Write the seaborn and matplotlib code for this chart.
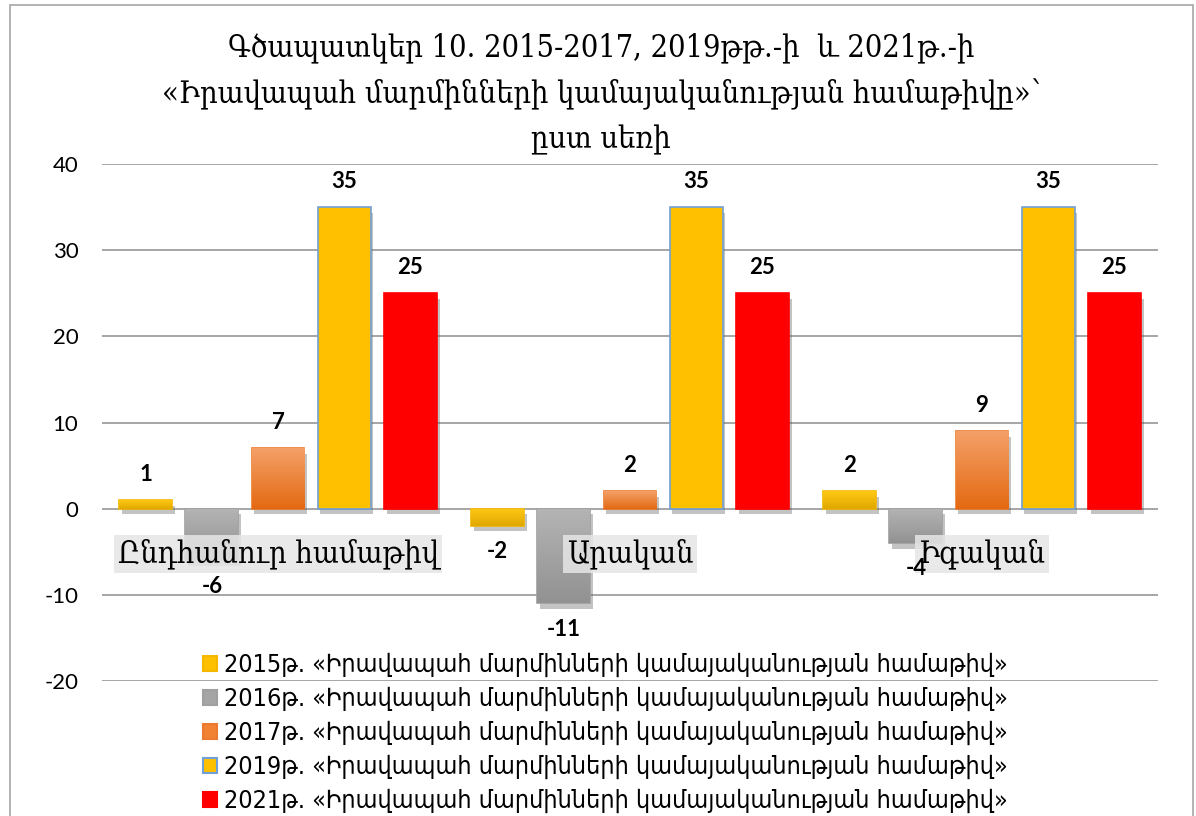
import matplotlib
matplotlib.use("Agg")
import matplotlib.pyplot as plt
import matplotlib.patheffects as pe
from matplotlib.patches import Rectangle
from matplotlib.colors import LinearSegmentedColormap
import numpy as np
import seaborn as sns
import pandas as pd

# ---- data ----
categories = ["Ընդհանուր համաթիվ", "Արական", "Իգական"]
years = ["2015թ.", "2016թ.", "2017թ.", "2019թ.", "2021թ."]
series_suffix = " «Իրավապահ մարմինների կամայականության համաթիվ»"
v2015 = [1, -2, 2]
v2016 = [-6, -11, -4]
v2017 = [7, 2, 9]
v2019 = [35, 35, 35]
v2021 = [25, 25, 25]
yticks = [-20, -10, 0, 10, 20, 30, 40]
title_lines = ["Գծապատկեր 10. 2015-2017, 2019թթ.-ի  և 2021թ.-ի",
               "«Իրավապահ մարմինների կամայականության համաթիվը»՝",
               "ըստ սեռի"]

series_vals = [v2015, v2016, v2017, v2019, v2021]
labels = [y + series_suffix for y in years]
rows = []
for lab, vals in zip(labels, series_vals):
    for c, v in zip(categories, vals):
        rows.append({"cat": c, "series": lab, "value": v})
df = pd.DataFrame(rows)

colors = ["#FFC000", "#A5A5A5", "#F08232", "#FFC000", "#FF0000"]
edges = ["#F5B800", "#A0A0A0", "#EC7A2E", "#6FA0D8", "#FF0000"]
grad = [("#FFC814", "#E0A800"), ("#B4B4B4", "#929292"), ("#F4A068", "#E46A12"), None, None]

W, H = 1196, 816
fig = plt.figure(figsize=(W / 100, H / 100), dpi=100)
ax = fig.add_axes([102 / W, 1 - 681 / H, (1158 - 102) / W, (681 - 164) / H])

sns.barplot(data=df, x="cat", y="value", hue="series", order=categories,
            hue_order=labels, palette=colors, width=0.94, gap=0.2,
            ax=ax, legend=True, saturation=1)

ax.set_ylim(-20, 40)
ax.set_xlim(-0.5, 2.5)

for cont, ec, g in zip(ax.containers, edges, grad):
    for bar in cont:
        bar.set_edgecolor(ec)
        bar.set_linewidth(1.2)
        bar.set_path_effects([pe.SimplePatchShadow(offset=(2, -4), shadow_rgbFace="#555555", alpha=0.35),
                              pe.Normal()])
        if g is not None:
            x0, y0 = bar.get_x(), bar.get_y()
            w, hgt = bar.get_width(), bar.get_height()
            cmap = LinearSegmentedColormap.from_list("g", [g[1], g[0]])
            im = ax.imshow(np.linspace(0, 1, 64).reshape(-1, 1), cmap=cmap, aspect="auto",
                           extent=(x0, x0 + w, min(y0, y0 + hgt), max(y0, y0 + hgt)),
                           origin="lower", zorder=bar.get_zorder() + 0.1, interpolation="bilinear")
            im.set_clip_path(bar)
    txts = ax.bar_label(cont, padding=11, fontsize=16, fontweight="bold", family="Lato", color="black")
    for t in txts:
        t.set_zorder(8)

ax.set_ylim(-20, 40)
ax.set_xlim(-0.5, 2.5)
ax.set_yticks(yticks)
ax.set_yticklabels([str(t) for t in yticks], fontsize=16, family="Lato")
ax.tick_params(axis="y", length=0, pad=17)
ax.tick_params(axis="x", length=0, labelbottom=False)
ax.set_xlabel("")
ax.set_ylabel("")
for s in ax.spines.values():
    s.set_visible(False)
ax.yaxis.grid(True, color="#A6A6A6", lw=1.4)
ax.set_axisbelow(True)

# category labels inside plot (centred on categories)
for i, c in enumerate(categories):
    ax.text(i, -5.3, c, ha="center", va="center", fontsize=22, family="DejaVu Serif",
            fontstretch="condensed",
            bbox=dict(facecolor="#E6E6E6", edgecolor="none", alpha=0.85, pad=2.5), zorder=5)

# legend
h, l = ax.get_legend_handles_labels()
ax.get_legend().remove()
for hh, ec in zip(h, edges):
    hh.set_edgecolor(ec)
    hh.set_linewidth(1.5)
leg = fig.legend(h, l, loc="upper left", bbox_to_anchor=(203 / W, 1 - 653 / H),
                 frameon=False, handlelength=0.55, handleheight=0.55,
                 handletextpad=0.3, labelspacing=0.38, borderpad=0, borderaxespad=0,
                 prop={"family": "DejaVu Sans", "size": 18, "stretch": "condensed"})

# title
ys = [48, 95, 140]
for line, y in zip(title_lines, ys):
    fig.text(601 / W, 1 - y / H, line, ha="center", va="center", fontsize=22,
             family="DejaVu Serif", fontstretch="condensed")

# chart frame
fig.patches.append(Rectangle((10 / W, -0.1), (1193 - 10) / W, 1 - 5 / H + 0.1,
                             transform=fig.transFigure, fill=False, edgecolor="#A6A6A6", lw=1.2))

fig.savefig("out.png", dpi=100)
